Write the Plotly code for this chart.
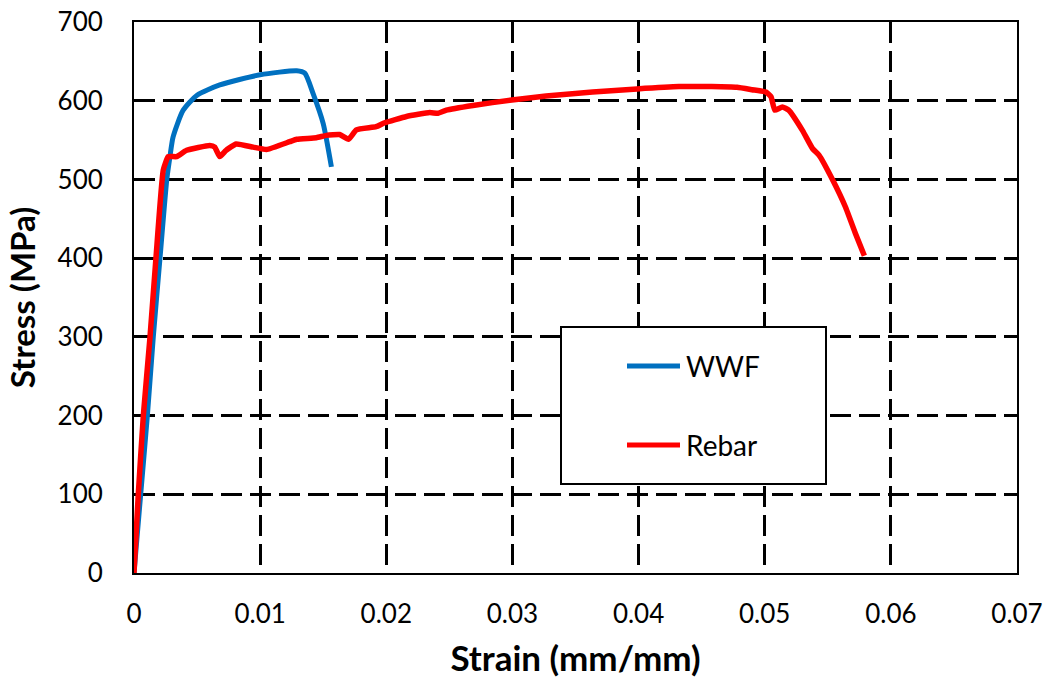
import plotly.graph_objects as go

# ---- data ----
wwf_strain = [0, 0.00053, 0.00106, 0.00153, 0.00206, 0.0026, 0.00285, 0.0031, 0.0039, 0.005,
              0.0068, 0.01, 0.0129, 0.01354, 0.0142, 0.015, 0.01565]
wwf_stress = [0, 100, 200, 300, 400, 500, 529, 554, 588, 607,
              620, 633, 638, 635, 609, 571, 516]

rebar_strain = [0, 0.00034, 0.00074, 0.00127, 0.00174, 0.00232, 0.00272, 0.00338, 0.00417, 0.006,
                0.0064, 0.0068, 0.0073, 0.0081, 0.00945, 0.0105, 0.01235, 0.0129, 0.01446, 0.01526,
                0.0163, 0.017, 0.01763, 0.0192, 0.01987, 0.0216, 0.02344, 0.0241, 0.02476, 0.02687,
                0.02995, 0.03267, 0.03636, 0.03988, 0.0432, 0.0458, 0.0478, 0.049, 0.0501, 0.0505,
                0.0508, 0.0514, 0.0519, 0.053, 0.0538, 0.0543, 0.0554, 0.0564, 0.0572, 0.0579]
rebar_stress = [0, 100, 200, 300, 400, 512, 529, 529, 537, 543,
                541, 529, 537, 545, 541, 538, 548, 551, 553, 556,
                557, 551, 563, 567, 572, 580, 585, 584, 588, 594,
                601, 606, 611, 615, 618, 618, 617, 614, 611, 605,
                588, 592, 588, 562, 539, 531, 499, 465, 431, 403]

x_ticks = [0, 0.01, 0.02, 0.03, 0.04, 0.05, 0.06, 0.07]
x_tick_labels = ["0", "0.01", "0.02", "0.03", "0.04", "0.05", "0.06", "0.07"]
y_ticks = [0, 100, 200, 300, 400, 500, 600, 700]

series_names = ["WWF", "Rebar"]
series_colors = ["#0070C0", "#FF0000"]

FONT = "Lato"

fig = go.Figure()
fig.add_trace(go.Scatter(x=wwf_strain, y=wwf_stress, mode="lines", name=series_names[0],
                         line=dict(color=series_colors[0], width=5, shape="spline", smoothing=0.6),
                         showlegend=False))
fig.add_trace(go.Scatter(x=rebar_strain, y=rebar_stress, mode="lines", name=series_names[1],
                         line=dict(color=series_colors[1], width=5.5, shape="spline", smoothing=0.4),
                         showlegend=False))

axis_common = dict(
    showline=True, linecolor="black", linewidth=2, mirror=True,
    showgrid=True, gridcolor="black", gridwidth=2.5, griddash="21px,8px",
    zeroline=False, ticks="", tickfont=dict(family=FONT, size=26, color="black"),
    automargin=False,
)

fig.update_xaxes(range=[0, 0.07], tickvals=x_ticks, ticktext=x_tick_labels,
                 ticklabelstandoff=17,
                 title=dict(text="<b>Strain (mm/mm)</b>", font=dict(family=FONT, size=35, color="black"),
                            standoff=18),
                 **axis_common)
fig.update_yaxes(range=[0, 700], tickvals=y_ticks,
                 ticklabelstandoff=24,
                 title=dict(text="<b>Stress (MPa)</b>", font=dict(family=FONT, size=33, color="black"),
                            standoff=12),
                 **axis_common)

# manual legend box
W, H = 1051, 684
ml, mr, mt, mb = 134, 34, 22, 111
pw, ph = W - ml - mr, H - mt - mb


def px(x):
    return (x - ml) / pw


def py(y):
    return 1 - (y - mt) / ph


fig.add_shape(type="rect", xref="paper", yref="paper",
              x0=px(561), x1=px(826), y0=py(484), y1=py(327),
              line=dict(color="black", width=2), fillcolor="white", layer="above")
for name, color, yy in zip(series_names, series_colors, [366, 445]):
    fig.add_shape(type="line", xref="paper", yref="paper",
                  x0=px(627), x1=px(680), y0=py(yy), y1=py(yy),
                  line=dict(color=color, width=5), layer="above")
    fig.add_annotation(xref="paper", yref="paper", x=px(684), y=py(yy), text=name,
                       xanchor="left", yanchor="middle", showarrow=False,
                       font=dict(family=FONT, size=28, color="black"))

fig.update_layout(
    width=W, height=H,
    margin=dict(l=ml, r=mr, t=mt, b=mb),
    plot_bgcolor="white", paper_bgcolor="white",
    showlegend=False,
)

fig.write_html("out.html")
